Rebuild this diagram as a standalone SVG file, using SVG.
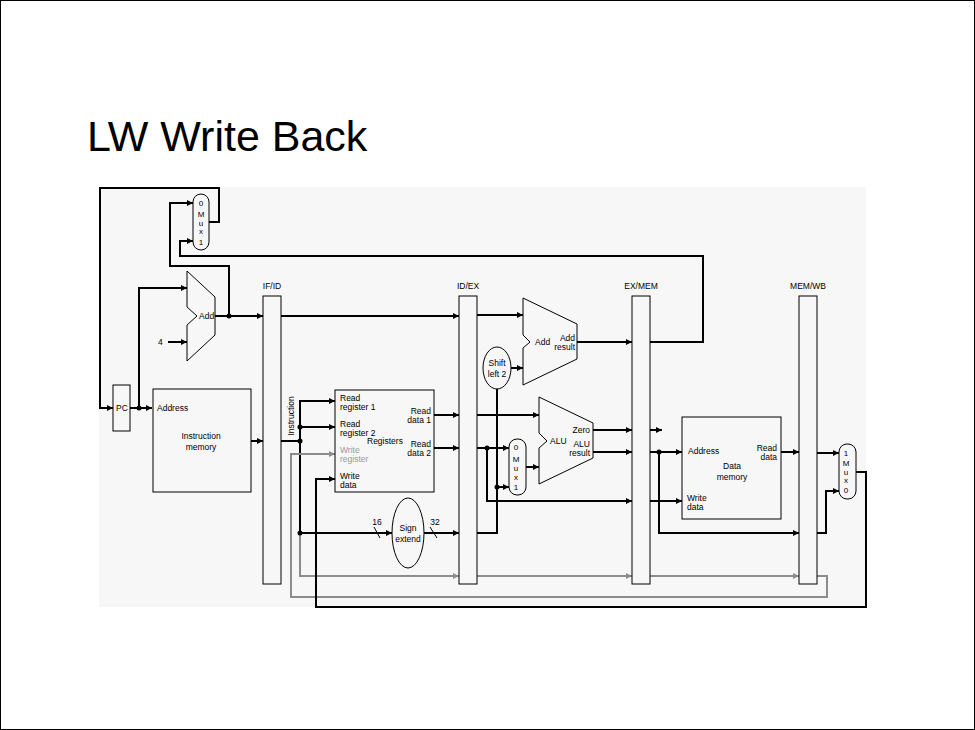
<svg xmlns="http://www.w3.org/2000/svg" width="975" height="730" viewBox="0 0 975 730">
<style>
.w{fill:none;stroke:#000;stroke-width:2}
.g{fill:none;stroke:#8c8c8c;stroke-width:2}
.thin{fill:none;stroke:#000;stroke-width:1}
.box{fill:#f7f7f7;stroke:#000;stroke-width:1}
.t{font-family:"Liberation Sans",Arial,sans-serif;font-size:8.5px;fill:#000}
.m{font-family:"Liberation Sans",Arial,sans-serif;font-size:8px;fill:#000;text-anchor:middle}
.c{text-anchor:middle}
.r{text-anchor:end}
.gt{fill:#999}
.dot{fill:#000}
</style>
<defs>
<marker id="a" viewBox="0 0 10 10" refX="10" refY="5" markerWidth="7" markerHeight="6" markerUnits="userSpaceOnUse" orient="auto"><path d="M0,0L10,5L0,10z" fill="#000"/></marker>
<marker id="ag" viewBox="0 0 10 10" refX="10" refY="5" markerWidth="7" markerHeight="6" markerUnits="userSpaceOnUse" orient="auto"><path d="M0,0L10,5L0,10z" fill="#8c8c8c"/></marker>
</defs>
<rect x="0.5" y="0.5" width="974" height="729" fill="#fff" stroke="#000" stroke-width="1"/>
<text x="87" y="151" style="font-family:'Liberation Sans',Arial,sans-serif;font-size:43px;fill:#000">LW Write Back</text>
<rect x="99" y="187" width="767" height="420" fill="#f7f7f7"/>

<g id="connectors">
<path class="w" d="M209,222H219V188H100V408H113" marker-end="url(#a)"/>
<path class="w" d="M130,408H152" marker-end="url(#a)"/>
<path class="w" d="M139,408V288H187" marker-end="url(#a)"/>
<path class="w" d="M168,342H187" marker-end="url(#a)"/>
<path class="w" d="M215,316H263" marker-end="url(#a)"/>
<path class="w" d="M229,316V266H170V203H193" marker-end="url(#a)"/>
<path class="w" d="M650,342H703V256H180V241H193" marker-end="url(#a)"/>
<path class="w" d="M251,441H263" marker-end="url(#a)"/>
<path class="w" d="M281,316H459" marker-end="url(#a)"/>
<path class="w" d="M281,441H300"/>
<path class="w" d="M300,533V401H335" marker-end="url(#a)"/>
<path class="w" d="M300,427H335" marker-end="url(#a)"/>
<path class="w" d="M300,533H392" marker-end="url(#a)"/>
<path class="w" d="M424,533H459" marker-end="url(#a)"/>
<path class="w" d="M434,415H459" marker-end="url(#a)"/>
<path class="w" d="M434,448H459" marker-end="url(#a)"/>
<path class="g" d="M817,576H827V597H291V454H335" marker-end="url(#ag)"/>
<path class="g" d="M300,535V576H459" marker-end="url(#ag)"/>
<path class="g" d="M477,576H632" marker-end="url(#ag)"/>
<path class="g" d="M650,576H799" marker-end="url(#ag)"/>
<path class="w" d="M856,472H866V607H316V479H335" marker-end="url(#a)"/>
<path class="w" d="M477,315H523" marker-end="url(#a)"/>
<path class="w" d="M477,533H497V389"/>
<path class="w" d="M511,368H523" marker-end="url(#a)"/>
<path class="w" d="M577,342H632" marker-end="url(#a)"/>
<path class="w" d="M477,415H539" marker-end="url(#a)"/>
<path class="w" d="M477,448H509" marker-end="url(#a)"/>
<path class="w" d="M497,487H509" marker-end="url(#a)"/>
<path class="w" d="M487,448V501H632" marker-end="url(#a)"/>
<path class="w" d="M526,467H539" marker-end="url(#a)"/>
<path class="w" d="M593,430H632" marker-end="url(#a)"/>
<path class="w" d="M650,430H662" marker-end="url(#a)"/>
<path class="w" d="M593,452H632" marker-end="url(#a)"/>
<path class="w" d="M650,452H682" marker-end="url(#a)"/>
<path class="w" d="M659,452V533H799" marker-end="url(#a)"/>
<path class="w" d="M650,501H682" marker-end="url(#a)"/>
<path class="w" d="M781,452H799" marker-end="url(#a)"/>
<path class="w" d="M817,453H839" marker-end="url(#a)"/>
<path class="w" d="M817,533H826V491H839" marker-end="url(#a)"/>
<path class="thin" d="M374,527L380,538M430,527L437,538"/>
<circle class="dot" cx="139" cy="408" r="2.5"/>
<circle class="dot" cx="229" cy="316" r="2.5"/>
<circle class="dot" cx="300" cy="427" r="2.5"/>
<circle class="dot" cx="300" cy="441" r="2.5"/>
<circle class="dot" cx="300" cy="533" r="2.5"/>
<circle class="dot" cx="487" cy="448" r="2.5"/>
<circle class="dot" cx="497" cy="487" r="2.5"/>
<circle class="dot" cx="659" cy="452" r="2.5"/>
</g>

<g id="pcmux">
<rect class="box" x="193" y="194" width="16" height="56" rx="8"/>
<text class="m" x="201" y="206">0</text><text class="m" x="201" y="216.5">M</text><text class="m" x="201" y="225.5">u</text><text class="m" x="201" y="234">x</text><text class="m" x="201" y="245">1</text>
</g>
<g id="pcadd">
<polygon class="box" points="187,271 215,297 215,335 187,361 187,325 197,316 187,307"/>
<text class="t" x="199" y="319">Add</text>
<text class="t" x="158" y="345">4</text>
</g>
<g id="pc">
<rect class="box" x="113" y="385" width="17" height="46"/>
<text class="t c" x="122" y="411">PC</text>
</g>
<g id="imem">
<rect class="box" x="153" y="389" width="98" height="103"/>
<text class="t" x="157" y="411">Address</text>
<text class="t c" x="201" y="439">Instruction</text>
<text class="t c" x="201" y="450">memory</text>
</g>
<g id="ifid">
<rect class="box" x="263" y="296" width="18" height="288"/>
<text class="t c" x="272" y="289">IF/ID</text>
<text class="t c" transform="translate(294,416) rotate(-90)">Instruction</text>
</g>
<g id="registers">
<rect class="box" x="335" y="390" width="99" height="102"/>
<text class="t" x="340" y="401">Read</text><text class="t" x="340" y="410">register 1</text>
<text class="t" x="340" y="427">Read</text><text class="t" x="340" y="436">register 2</text>
<text class="t" x="367" y="444">Registers</text>
<text class="t gt" x="340" y="453">Write</text><text class="t gt" x="340" y="462">register</text>
<text class="t" x="340" y="479">Write</text><text class="t" x="340" y="488">data</text>
<text class="t r" x="431" y="414">Read</text><text class="t r" x="431" y="423">data 1</text>
<text class="t r" x="431" y="446.5">Read</text><text class="t r" x="431" y="455.5">data 2</text>
</g>
<g id="signext">
<ellipse class="box" cx="408" cy="533" rx="16" ry="35"/>
<text class="t c" x="408" y="531">Sign</text><text class="t c" x="408" y="542">extend</text>
<text class="t c" x="377" y="525">16</text><text class="t c" x="435" y="525">32</text>
</g>
<g id="idex">
<rect class="box" x="459" y="296" width="18" height="288"/>
<text class="t c" x="468" y="289">ID/EX</text>
</g>
<g id="shift">
<ellipse class="box" cx="497" cy="368" rx="14" ry="21"/>
<text class="t c" x="497" y="366">Shift</text><text class="t c" x="497" y="377">left 2</text>
</g>
<g id="branchadd">
<polygon class="box" points="523,298 577,324 577,359 523,385 523,348 530,342 523,335"/>
<text class="t" x="535" y="345">Add</text>
<text class="t r" x="575" y="341">Add</text><text class="t r" x="575" y="349.5">result</text>
</g>
<g id="alumux">
<rect class="box" x="509" y="439" width="17" height="56" rx="8"/>
<text class="m" x="516" y="450">0</text><text class="m" x="516" y="462">M</text><text class="m" x="516" y="470.5">u</text><text class="m" x="516" y="480">x</text><text class="m" x="516" y="490">1</text>
</g>
<g id="alu">
<polygon class="box" points="539,397 593,423 593,458 539,484 539,448 547,441 539,433"/>
<text class="t" x="550" y="444">ALU</text>
<text class="t r" x="590" y="433">Zero</text>
<text class="t r" x="590" y="447">ALU</text><text class="t r" x="590" y="455.5">result</text>
</g>
<g id="exmem">
<rect class="box" x="632" y="296" width="18" height="288"/>
<text class="t c" x="641" y="289">EX/MEM</text>
</g>
<g id="dmem">
<rect class="box" x="682" y="417" width="99" height="102"/>
<text class="t" x="688" y="454">Address</text>
<text class="t r" x="777" y="451">Read</text><text class="t r" x="777" y="460">data</text>
<text class="t c" x="732" y="469">Data</text><text class="t c" x="732" y="480">memory</text>
<text class="t" x="687" y="501">Write</text><text class="t" x="687" y="510">data</text>
</g>
<g id="memwb">
<rect class="box" x="799" y="296" width="18" height="288"/>
<text class="t c" x="808" y="289">MEM/WB</text>
</g>
<g id="wbmux">
<rect class="box" x="839" y="444" width="17" height="55" rx="8"/>
<text class="m" x="846" y="456">1</text><text class="m" x="846" y="466">M</text><text class="m" x="846" y="474.5">u</text><text class="m" x="846" y="483">x</text><text class="m" x="846" y="493">0</text>
</g>
</svg>
